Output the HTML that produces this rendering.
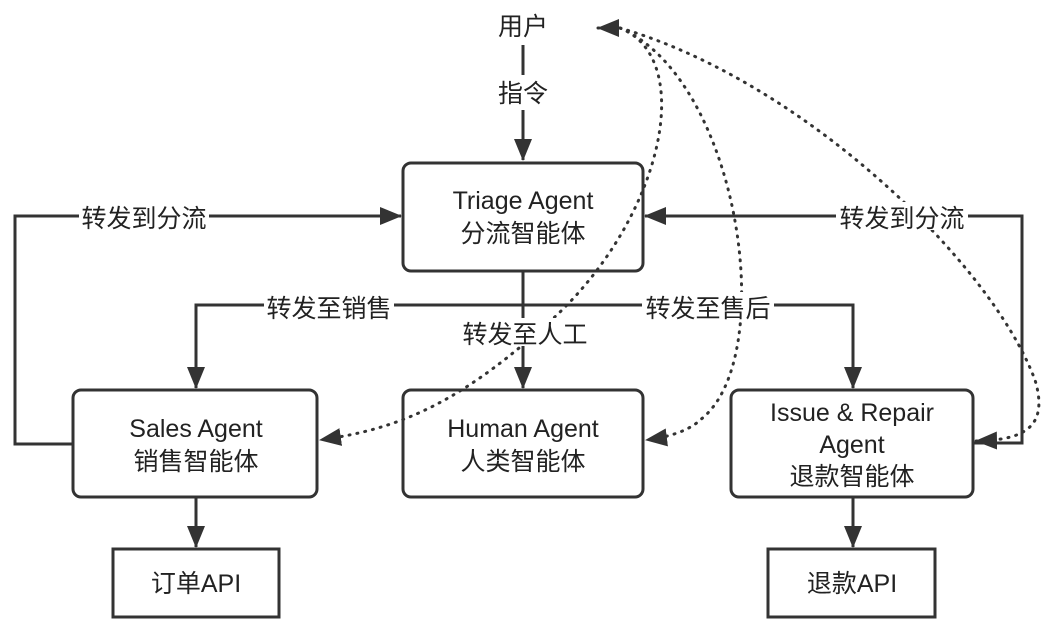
<!DOCTYPE html>
<html><head><meta charset="utf-8"><style>
body{margin:0;background:#fff;}
svg text{font-family:"Liberation Sans","Noto Sans CJK SC",sans-serif;fill:#222;font-size:25px;}
</style></head><body>
<svg width="1054" height="629" viewBox="0 0 1054 629" xmlns="http://www.w3.org/2000/svg">
<defs>
<marker id="b" markerWidth="22" markerHeight="18" refX="21" refY="9" orient="auto" markerUnits="userSpaceOnUse" viewBox="0 0 22 18"><path d="M0,0 L22,9 L0,18 Z" fill="#333"/></marker>
</defs>
<g fill="none" stroke="#333" stroke-width="3">
<rect x="403" y="163" width="240" height="108" rx="8"/>
<rect x="73" y="390" width="244" height="107" rx="8"/>
<rect x="403" y="390" width="240" height="107" rx="8"/>
<rect x="731" y="390" width="242" height="107" rx="8"/>
<rect x="113" y="549" width="166" height="68"/>
<rect x="768" y="549" width="167" height="68"/>
<path d="M523,45 V75 M523,110 V160" marker-end="url(#b)"/>
<path d="M523,271 V388" marker-end="url(#b)"/>
<path d="M523,305 H196 V388" marker-end="url(#b)"/>
<path d="M523,305 H853 V388" marker-end="url(#b)"/>
<path d="M73,444 H15 V216 H401" marker-end="url(#b)"/>
<path d="M973,443 H1022 V216 H645" marker-end="url(#b)"/>
<path d="M196,497 V547" marker-end="url(#b)"/>
<path d="M853,497 V547" marker-end="url(#b)"/>
</g>
<g fill="none" stroke="#333" stroke-width="3" stroke-dasharray="1 7" stroke-linecap="round">
<path d="M620,28 C700,60 660,230 540,330 C450,410 390,430 320,440" marker-end="url(#b)"/>
<path d="M620,28 C740,80 780,360 700,420 C690,430 670,437 646,440" marker-end="url(#b)"/>
<path d="M620,28 C800,80 990,260 1035,380 C1050,430 1020,440 976,441" marker-end="url(#b)"/>
<path d="M615,28 H598" marker-end="url(#b)"/>
</g>
<g text-anchor="middle">
<text x="523" y="35">用户</text>
<rect x="493" y="78" width="60" height="30" fill="#fff"/>
<text x="523" y="102">指令</text>
<text x="523" y="209" font-size="27">Triage Agent</text>
<text x="523" y="242">分流智能体</text>
<text x="196" y="437" font-size="27">Sales Agent</text>
<text x="196" y="470">销售智能体</text>
<text x="523" y="437" font-size="27">Human Agent</text>
<text x="523" y="470">人类智能体</text>
<text x="852" y="421" font-size="27">Issue &amp; Repair</text>
<text x="852" y="453" font-size="27">Agent</text>
<text x="852" y="485">退款智能体</text>
<text x="196" y="592">订单API</text>
<text x="852" y="592">退款API</text>
<rect x="79" y="202" width="130" height="28" fill="#fff"/>
<text x="144" y="227">转发到分流</text>
<rect x="836" y="202" width="132" height="28" fill="#fff"/>
<text x="902" y="227">转发到分流</text>
<rect x="264" y="292" width="130" height="28" fill="#fff"/>
<text x="329" y="317">转发至销售</text>
<rect x="642" y="292" width="132" height="28" fill="#fff"/>
<text x="708" y="317">转发至售后</text>
<rect x="459" y="318" width="132" height="28" fill="#fff"/>
<text x="525" y="343">转发至人工</text>
</g>
</svg>
</body></html>
